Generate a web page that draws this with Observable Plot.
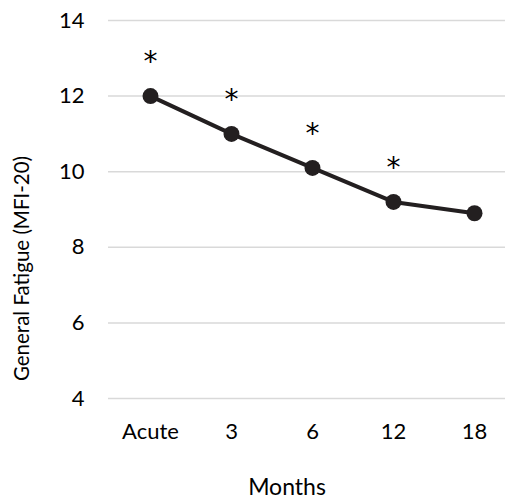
<!DOCTYPE html>
<html>
<head>
<meta charset="utf-8">
<script src="https://cdn.jsdelivr.net/npm/d3@7"></script>
<script src="https://cdn.jsdelivr.net/npm/@observablehq/plot@0.6"></script>
<style>
  html, body { margin: 0; padding: 0; background: #fff; }
</style>
</head>
<body>
<div id="chart"></div>
<script>
const months = ["Acute", "3", "6", "12", "18"];
const fatigue = [12, 11, 10.1, 9.2, 8.9];
const significant = [true, true, true, true, false];
const yTicks = [4, 6, 8, 10, 12, 14];

const data = months.map((m, i) => ({month: m, value: fatigue[i], sig: significant[i]}));
const ink = "#231f20";

const chart = Plot.plot({
  width: 505,
  height: 500,
  marginLeft: 108,
  marginRight: 0,
  marginTop: 20,
  marginBottom: 102,
  style: {fontFamily: "Lato, sans-serif", fontSize: "22px", color: "#000", background: "#fff"},
  x: {type: "point", domain: months, range: [149, 475], padding: 0},
  y: {domain: [4, 14], ticks: yTicks},
  marks: [
    Plot.ruleY(yTicks, {stroke: "#d9d9d9", strokeWidth: 1.5}),
    Plot.axisY({ticks: yTicks, tickSize: 0, tickPadding: 24, label: null}),
    Plot.axisX({tickSize: 0, tickPadding: 25, label: null}),
    Plot.line(data, {x: "month", y: "value", stroke: ink, strokeWidth: 4}),
    Plot.dot(data, {x: "month", y: "value", r: 8, fill: ink, stroke: "none"}),
    Plot.text(data.filter(d => d.sig), {x: "month", y: "value", text: () => "*", dy: -34, fill: "#000", fontSize: 28, fontFamily: "DejaVu Sans"}),
    Plot.text(["Months"], {frameAnchor: "bottom", text: d => d, textAnchor: "middle", dx: -20, dy: 96, fill: "#000", fontSize: 23}),
    Plot.text(["General Fatigue (MFI-20)"], {frameAnchor: "left", text: d => d, textAnchor: "middle", rotate: -90, dx: -86, dy: 59, fill: "#000", fontSize: 20.5})
  ]
});
document.getElementById("chart").appendChild(chart);
</script>
</body>
</html>
